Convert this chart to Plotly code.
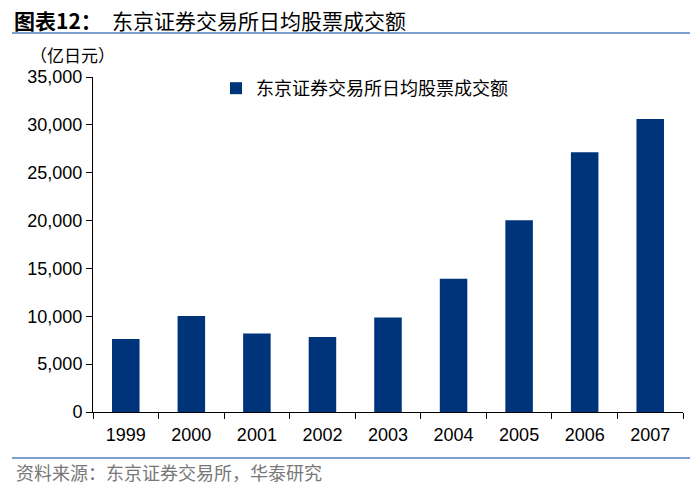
import plotly.graph_objects as go

years = ["1999", "2000", "2001", "2002", "2003", "2004", "2005", "2006", "2007"]
values = [7620, 10020, 8200, 7830, 9880, 13910, 20040, 27140, 30620]
series_name = "东京证券交易所日均股票成交额"
y_ticks = [0, 5000, 10000, 15000, 20000, 25000, 30000, 35000]
y_tick_labels = ["0", "5,000", "10,000", "15,000", "20,000", "25,000", "30,000", "35,000"]

CJK = "Noto Sans CJK SC"
LAT = "Liberation Sans, Arial"

L, T, PW, PH = 93, 77, 590, 335


def px(x):
    return (x - L) / PW


def py(y):
    return (T + PH - y) / PH


fig = go.Figure()
fig.add_trace(go.Bar(
    x=years, y=values, name=series_name,
    marker=dict(color="#00347A", line=dict(width=0)),
    showlegend=True,
))

fig.update_layout(
    width=700, height=492,
    margin=dict(l=L, r=700 - L - PW, t=T, b=492 - T - PH),
    paper_bgcolor="white", plot_bgcolor="white",
    bargap=0.58,
    font=dict(family=LAT, size=18, color="black"),
    legend=dict(
        x=px(216), y=py(70), xanchor="left", yanchor="top",
        font=dict(family=CJK, size=18, color="black"),
        bgcolor="rgba(0,0,0,0)", itemwidth=30,
    ),
    xaxis=dict(
        type="category", showline=True, linecolor="black", linewidth=1,
        ticks="outside", ticklen=6, tickcolor="black", tickson="boundaries",
        tickfont=dict(family=LAT, size=18, color="black"),
        ticklabelstandoff=6,
        showgrid=False, zeroline=False,
    ),
    yaxis=dict(
        range=[0, 35000], tickvals=y_ticks, ticktext=y_tick_labels,
        showline=True, linecolor="black", linewidth=1,
        ticks="outside", ticklen=6, tickcolor="black",
        tickfont=dict(family=LAT, size=18, color="black"),
        showgrid=False, zeroline=False,
    ),
    shapes=[
        dict(type="line", xref="paper", yref="paper", x0=px(12), x1=px(690),
             y0=py(33), y1=py(33), line=dict(color="#4F7FBF", width=1.5)),
        dict(type="line", xref="paper", yref="paper", x0=px(12), x1=px(690),
             y0=py(458), y1=py(458), line=dict(color="#4F7FBF", width=1.5)),
    ],
    annotations=[
        dict(text="<b>图表12：</b>", xref="paper", yref="paper",
             x=px(12), y=py(20), xanchor="left", yanchor="middle",
             showarrow=False, font=dict(family=CJK, size=21, color="black")),
        dict(text="东京证券交易所日均股票成交额", xref="paper", yref="paper",
             x=px(110), y=py(20), xanchor="left", yanchor="middle",
             showarrow=False, font=dict(family=CJK, size=21, color="black")),
        dict(text="（亿日元）", xref="paper", yref="paper",
             x=px(28), y=py(54), xanchor="left", yanchor="middle",
             showarrow=False, font=dict(family=CJK, size=17, color="black")),
        dict(text="资料来源：东京证券交易所，华泰研究", xref="paper", yref="paper",
             x=px(14), y=py(472), xanchor="left", yanchor="middle",
             showarrow=False, font=dict(family=CJK, size=18, color="#777777")),
    ],
)

fig.write_html("out.html", config={"displayModeBar": False},
               post_script="document.body.style.margin='0';document.body.style.padding='0';")
